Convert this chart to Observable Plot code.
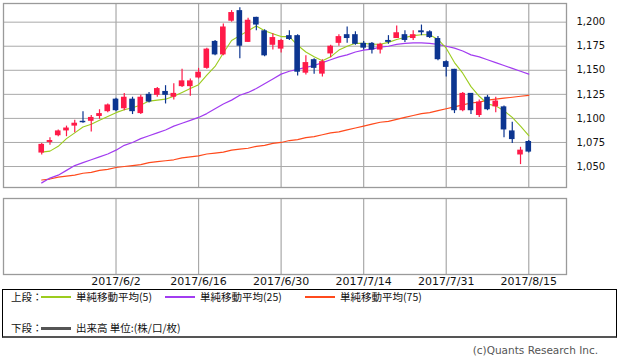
<!DOCTYPE html>
<html>
<head>
<meta charset="utf-8">
<script src="https://cdn.jsdelivr.net/npm/d3@7"></script>
<script src="https://cdn.jsdelivr.net/npm/@observablehq/plot@0.6"></script>
<style>
  html, body { margin: 0; padding: 0; background: #fff; }
  #wrap { position: relative; width: 620px; height: 356px; overflow: hidden; font-family: "Noto Sans CJK JP", "DejaVu Sans", sans-serif; }
  #top { position: absolute; left: 0; top: 0; }
  #bot { position: absolute; left: 0; top: 190px; }
  #top svg, #bot svg { display: block; }
  #legend { position: absolute; left: 2px; top: 289px; width: 613px; height: 46px; border: 1px solid #000; border-bottom: 2px solid #555; }
  .lg { position: absolute; font-size: 10.5px; line-height: 14px; color: #111; white-space: nowrap; }
  .sw { position: absolute; }
  #copy { position: absolute; right: 22px; top: 343px; font-size: 10.5px; line-height: 14px; color: #555; font-family: "DejaVu Sans", sans-serif; }
</style>
</head>
<body>
<div id="wrap">
  <div id="top"></div>
  <div id="bot"></div>
  <div id="legend"></div>
  <div id="copy">(c)Quants Research Inc.</div>
</div>
<script>
// ---- data ----
const dates = [
  "2017/5/22","2017/5/23","2017/5/24","2017/5/25","2017/5/26","2017/5/29","2017/5/30","2017/5/31",
  "2017/6/1","2017/6/2","2017/6/5","2017/6/6","2017/6/7","2017/6/8","2017/6/9","2017/6/12","2017/6/13",
  "2017/6/14","2017/6/15","2017/6/16","2017/6/19","2017/6/20","2017/6/21","2017/6/22","2017/6/23",
  "2017/6/26","2017/6/27","2017/6/28","2017/6/29","2017/6/30","2017/7/3","2017/7/4","2017/7/5",
  "2017/7/6","2017/7/7","2017/7/10","2017/7/11","2017/7/12","2017/7/13","2017/7/14","2017/7/18",
  "2017/7/19","2017/7/20","2017/7/21","2017/7/24","2017/7/25","2017/7/26","2017/7/27","2017/7/28",
  "2017/7/31","2017/8/1","2017/8/2","2017/8/3","2017/8/4","2017/8/7","2017/8/8","2017/8/9",
  "2017/8/10","2017/8/14","2017/8/15"
];
const open  = [1064,1075,1082,1087,1092,1097,1097,1102,1107,1120,1110,1120,1105,1125,1124,1128,1122,1133,1133,1142,
               1152,1180,1166,1201,1212,1179,1205,1191,1176,1172,1186,1186,1147,1161,1146,1167,1178,1187,1187,1178,
               1178,1171,1181,1183,1187,1183,1191,1190,1183,1159,1151,1108,1126,1103,1122,1112,1112,1087,1062,1076];
const high  = [1074,1080,1088,1092,1098,1107,1103,1109,1115,1121,1126,1122,1124,1127,1132,1134,1136,1151,1141,1152,
               1173,1181,1198,1212,1215,1204,1205,1192,1188,1182,1191,1187,1165,1162,1161,1176,1187,1195,1190,1180,
               1179,1178,1186,1196,1191,1191,1197,1191,1185,1160,1151,1127,1126,1119,1124,1122,1113,1096,1070,1077];
const low   = [1062,1072,1081,1081,1085,1095,1086,1099,1106,1107,1108,1104,1104,1116,1122,1115,1119,1132,1123,1141,
               1151,1165,1165,1200,1162,1179,1191,1164,1171,1168,1181,1144,1145,1146,1143,1163,1175,1178,1176,1171,
               1167,1167,1177,1183,1179,1181,1186,1183,1160,1143,1105,1107,1104,1101,1108,1106,1080,1074,1052,1064];
const close = [1073,1077,1087,1090,1095,1095.5,1101,1105,1114,1108,1122,1107,1122,1117,1131,1124,1126,1139,1139,1148,
               1172,1166,1195,1210,1175,1202,1197,1165,1184,1181,1182,1148,1158,1152,1159,1175,1185,1183,1177,1173,
               1171,1177,1179,1189,1181,1187,1189,1184,1161,1153,1108,1126,1108,1117,1109,1118,1088,1078,1067,1065];
const ma5   = [1065,1066,1071,1079,1085,1091,1094,1098,1102,1106,1109,1111,1114,1118,1119,1120,1123,1127,1131,1135,
               1145,1154,1168,1181,1186,1191,1196,1191,1188,1185,1185,1176,1169,1164,1160,1164,1171,1175,1178,1178,
               1177,1177,1179,1182,1184,1186,1187,1187,1182,1173,1158,1147,1133,1123,1115,1113,1108,1101,1092,1082];
const ma25  = [1033,1038,1041,1046,1051,1054,1057,1060,1063,1067,1072,1075,1079,1082,1085,1088,1092,1095,1098,1101,
               1105,1110,1115,1119,1124,1127,1131,1136,1141,1146,1149,1151,1153,1155,1158,1161,1164,1166,1169,1171,
               1172,1174,1175,1177,1178,1178.5,1178.5,1178,1177,1175,1173,1170,1166,1164,1161,1158,1155,1152,1149,1146];
const ma75  = [1036,1037,1039,1040,1041,1043,1044,1046,1047,1049,1050,1051,1052,1054,1055,1056,1057,1059,1060,1061,
               1063,1064,1065,1067,1068,1069,1071,1072,1074,1075,1077,1078,1080,1081,1083,1085,1086,1088,1090,1092,
               1094,1096,1097,1099,1101,1103,1105,1106,1108,1110,1112,1114,1116,1117,1119,1120,1121,1122,1123,1124];
const yTicks = [1050, 1075, 1100, 1125, 1150, 1175, 1200];
const xTickDates = ["2017/6/2", "2017/6/16", "2017/6/30", "2017/7/14", "2017/7/31", "2017/8/15"];
const seriesNames = ["単純移動平均(5)", "単純移動平均(25)", "単純移動平均(75)"];
const seriesColors = ["#9ccc1e", "#a23cf0", "#ff4a1c"];
const volumeLabel = "出来高 単位:(株/口/枚)";

// ---- derived tables ----
const UP = "#ff1a48", DOWN = "#0c3590";
const candles = dates.map((d, i) => ({i, d, o: open[i], h: high[i], l: low[i], c: close[i],
  col: close[i] >= open[i] ? UP : DOWN}));
const tickIdx = xTickDates.map(s => dates.indexOf(s));
const maLines = [ma5, ma25, ma75].map(arr => arr.map((v, i) => ({i, v})));
const xDomain = [-4.63, 63.57];
const GRID = "#a9a9a9";

const topChart = Plot.plot({
  width: 620, height: 190,
  marginTop: 3, marginBottom: 3, marginLeft: 3, marginRight: 54,
  x: {type: "linear", domain: xDomain, axis: null},
  y: {domain: [1028.2, 1219.4], axis: "right", ticks: yTicks, tickFormat: d3.format(","),
      tickSize: 0, tickPadding: 10, label: null},
  color: {type: "identity"},
  style: {fontFamily: "DejaVu Sans", fontSize: "10px", color: "#111", background: "transparent"},
  marks: [
    Plot.ruleY(yTicks, {stroke: GRID, strokeWidth: 1}),
    Plot.ruleX(tickIdx, {stroke: GRID, strokeWidth: 1.2}),
    Plot.frame({stroke: "#9a9a9a", strokeWidth: 1.3}),
    Plot.line(maLines[2], {x: "i", y: "v", stroke: seriesColors[2], strokeWidth: 1.2}),
    Plot.line(maLines[1], {x: "i", y: "v", stroke: seriesColors[1], strokeWidth: 1.2}),
    Plot.line(maLines[0], {x: "i", y: "v", stroke: seriesColors[0], strokeWidth: 1.1}),
    Plot.ruleX(candles, {x: "i", y1: "l", y2: "h", stroke: "col", strokeWidth: 1.2}),
    Plot.rect(candles, {x1: d => d.i - 0.34, x2: d => d.i + 0.34, y1: "o", y2: "c", fill: "col"})
  ]
});
document.getElementById("top").appendChild(topChart);

const botChart = Plot.plot({
  width: 620, height: 98,
  marginTop: 8, marginBottom: 14, marginLeft: 3, marginRight: 54,
  x: {type: "linear", domain: xDomain, ticks: tickIdx, tickFormat: i => dates[i],
      tickSize: 0, tickPadding: 3, label: null},
  y: {domain: [0, 1], axis: null},
  style: {fontFamily: "DejaVu Sans", fontSize: "11px", color: "#111", background: "transparent"},
  marks: [
    Plot.ruleX(tickIdx, {stroke: GRID, strokeWidth: 1.2}),
    Plot.frame({stroke: "#9a9a9a", strokeWidth: 1.3})
  ]
});
document.getElementById("bot").appendChild(botChart);

// ---- legend (HTML) ----
const wrap = document.getElementById("wrap");
function addText(txt, left, cy) {
  const s = document.createElement("div");
  s.className = "lg"; s.textContent = txt;
  s.style.left = left + "px"; s.style.top = (cy - 7) + "px";
  wrap.appendChild(s);
}
function addSwatch(color, left, cy, w, h) {
  const s = document.createElement("div");
  s.className = "sw";
  s.style.left = left + "px"; s.style.top = (cy - h / 2) + "px";
  s.style.width = w + "px"; s.style.height = h + "px"; s.style.background = color;
  wrap.appendChild(s);
}
const row1 = 297, row2 = 328;
addText("上段：", 11, row1);
const swLeft = [41, 165, 305], txLeft = [76, 200, 340];
seriesNames.forEach((n, k) => { addSwatch(seriesColors[k], swLeft[k], row1, 30, 1.5); addText(n, txLeft[k], row1); });
addText("下段：", 11, row2);
addSwatch("#555", 41, row2, 30, 3);
addText(volumeLabel, 76, row2);
</script>
</body>
</html>
